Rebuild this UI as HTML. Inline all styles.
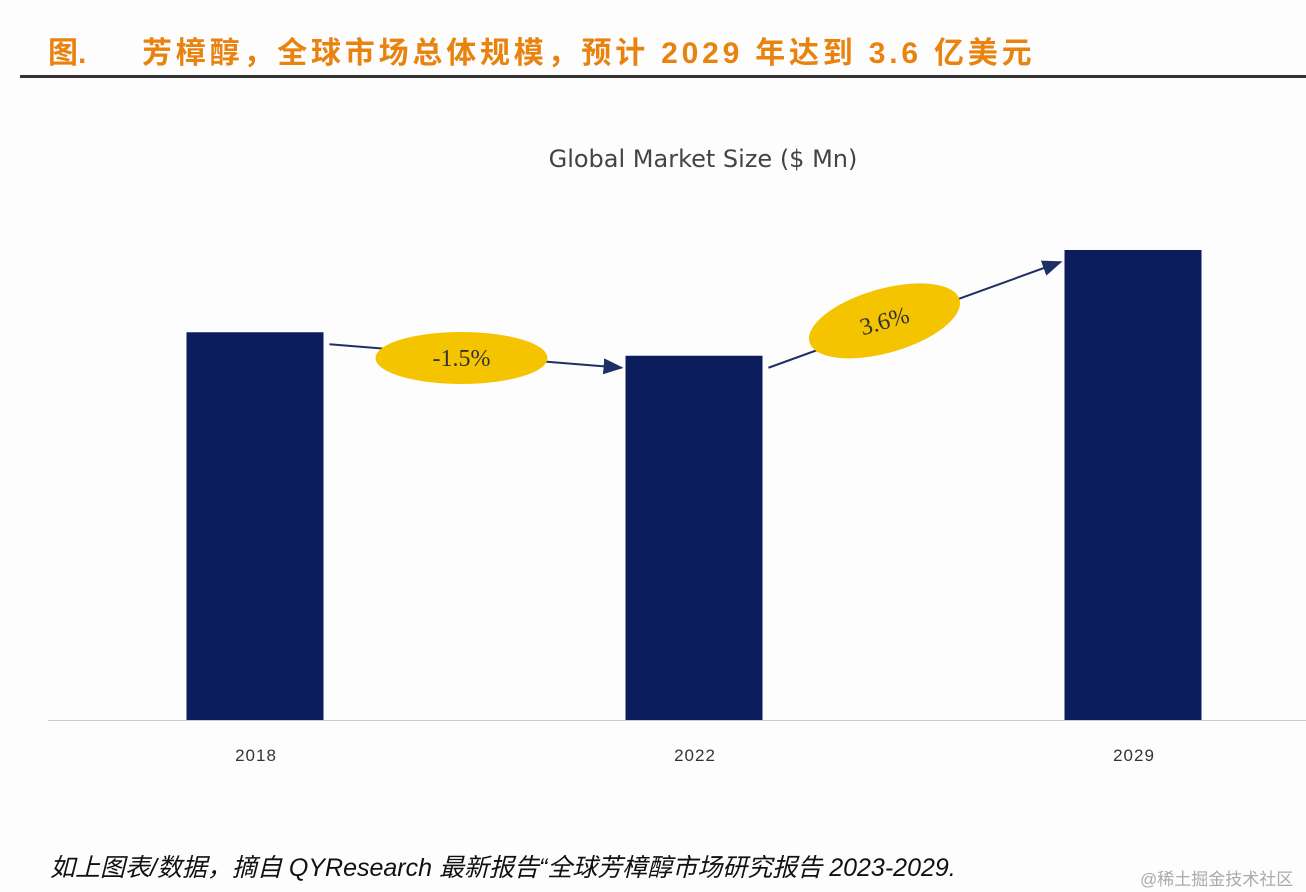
<!DOCTYPE html>
<html><head><meta charset="utf-8">
<style>
body{margin:0;width:1306px;height:892px;background:#fdfdfe;overflow:hidden;position:relative;font-family:"Liberation Sans","Noto Sans CJK SC",sans-serif}
.t{position:absolute;white-space:nowrap}
</style></head><body>
<div class="t" style="left:48px;top:28px;font-size:30px;font-weight:bold;color:#e8830f">图.</div>
<div class="t" style="left:142px;top:28px;font-size:30px;font-weight:bold;color:#e8830f;letter-spacing:3.8px">芳樟醇，全球市场总体规模，预计 2029 年达到 3.6 亿美元</div>
<div style="position:absolute;left:20px;top:75px;width:1286px;height:3px;background:#333"></div>
<svg id="chart" width="1306" height="892" style="position:absolute;left:0;top:0">
<text x="703" y="167" text-anchor="middle" font-family="DejaVu Sans, sans-serif" font-size="24" fill="#444">Global Market Size ($ Mn)</text>
<line x1="48" y1="720.5" x2="1306" y2="720.5" stroke="#c8cbd6" stroke-width="1"/>
<defs><marker id="ah" markerWidth="10" markerHeight="8" refX="9" refY="4" orient="auto"><path d="M0,0 L10,4 L0,8z" fill="#1f2f66"/></marker></defs>
<g id="bars"></g>
<g id="growth"></g>
</svg>
<div class="t" style="left:50px;top:848px;font-size:25px;font-style:italic;color:#111">如上图表/数据，摘自 QYResearch 最新报告“全球芳樟醇市场研究报告 2023-2029.</div>
<div class="t" style="left:1140px;top:865px;font-size:17px;color:#aaa">@稀土掘金技术社区</div>
<script>
const categories=["2018","2022","2029"];
const values=[297,279,360];
const growthLabels=["-1.5%","3.6%"];
const ns="http://www.w3.org/2000/svg";
const baseY=720, pxPer=470/360;
const xCenter=i=>255+i*439;
const yScale=v=>baseY-v*pxPer;
const bw=137;
const g=document.getElementById('bars');
categories.forEach((c,i)=>{
 const r=document.createElementNS(ns,'rect');
 r.setAttribute('x',xCenter(i)-bw/2);r.setAttribute('y',yScale(values[i]));
 r.setAttribute('width',bw);r.setAttribute('height',baseY-yScale(values[i]));r.setAttribute('fill','#0b1d5c');
 
 
 g.appendChild(r);
 const t=document.createElementNS(ns,'text');
 t.setAttribute('x',xCenter(i)+1);t.setAttribute('y',761);t.setAttribute('text-anchor','middle');
 t.setAttribute('font-size','17');t.setAttribute('fill','#333');t.setAttribute('letter-spacing','1');t.textContent=c;
 
 
 g.appendChild(t);
});
const gg=document.getElementById('growth');
growthLabels.forEach((lab,i)=>{
 const x1=xCenter(i)+bw/2+6,y1=yScale(values[i])+12,x2=xCenter(i+1)-bw/2-4,y2=yScale(values[i+1])+12;
 const l=document.createElementNS(ns,'line');
 l.setAttribute('x1',x1);l.setAttribute('y1',y1);l.setAttribute('x2',x2);l.setAttribute('y2',y2);
 l.setAttribute('stroke','#1f2f66');l.setAttribute('stroke-width','2');l.setAttribute('marker-end','url(#ah)');
 
 
 gg.appendChild(l);
 const cx=(x1+x2)/2-(i?30:14),cy=(y1+y2)/2+(i?6:2);
 const ang=Math.atan2(y2-y1,x2-x1)*180/Math.PI;
 const e=document.createElementNS(ns,'ellipse');
 e.setAttribute('cx',cx);e.setAttribute('cy',cy);e.setAttribute('rx',i?78:86);e.setAttribute('ry',i?32:26);
 e.setAttribute('fill','#f5c400');e.setAttribute('transform',`rotate(${i?ang*0.8:0} ${cx} ${cy})`);
 
 
 gg.appendChild(e);
 const t=document.createElementNS(ns,'text');
 t.setAttribute('x',cx);t.setAttribute('y',cy+8);t.setAttribute('text-anchor','middle');
 t.setAttribute('font-family','Liberation Serif, serif');t.setAttribute('font-size','24');t.setAttribute('fill','#333');
 t.setAttribute('transform',`rotate(${i?ang*0.8:0} ${cx} ${cy})`);t.textContent=lab;
 
 
 gg.appendChild(t);
});
</script>
</body></html>
